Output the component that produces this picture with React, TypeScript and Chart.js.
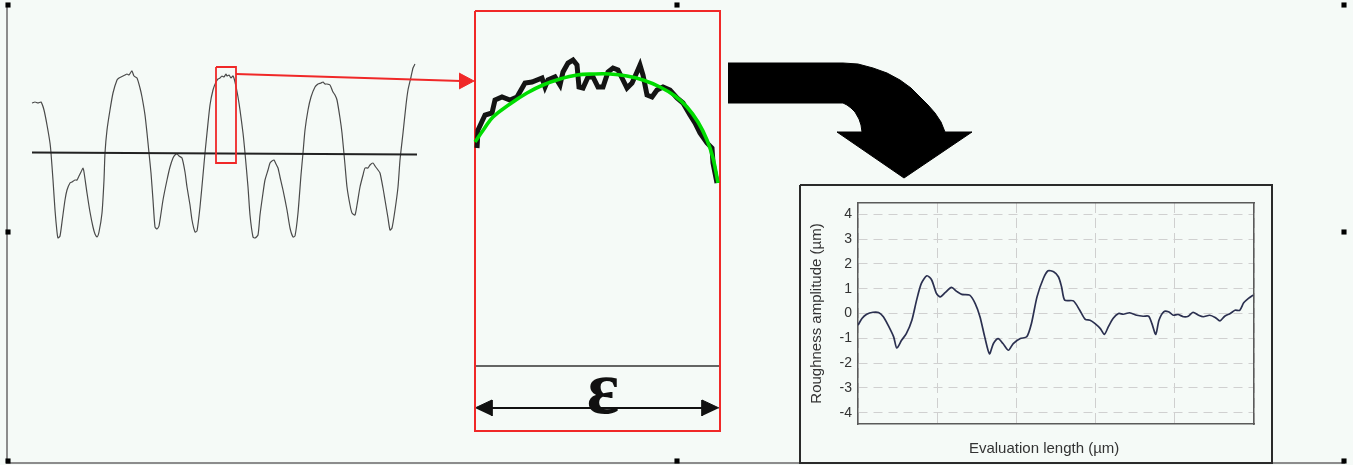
import React, { useEffect, useRef } from "react";
import { Chart, registerables } from "chart.js";

Chart.register(...registerables);

// ---------------- Left surface profile (x: position, y: height vs. mean line) ----------------
const profileX = [0,3,6,9,12,15,18,19,21,23,25,26,28,30,33,35,38,40,43,45,47,49,51,52,55,58,61,63,65,67,70,72,73,75,78,81,85,87,89,91,93,95,97,99,100,102,105,108,110,113,115,117,119,121,123,125,127,131,135,138,141,143,145,147,150,153,155,158,160,163,165,168,171,173,175,178,181,184,186,188,190,192,194,195,197,199,201,203,206,208,211,213,216,218,221,223,226,228,231,233,236,238,240,242,244,246,248,251,255,258,261,263,266,269,271,273,276,279,283,286,289,291,293,295,298,301,303,305,308,310,313,315,318,320,323,325,328,331,333,336,338,341,343,346,348,351,353,356,358,360,363,366,368,371,374,376,379,381,383];
const profileY = [50,51,50,51,43,28,10,0,-27,-57,-79,-85,-83,-69,-47,-37,-30,-29,-27,-27,-23,-19,-15,-19,-40,-59,-74,-81,-84,-79,-60,-27,0,23,43,60,73,75,76,77,78,79,78,81,82,77,75,65,56,38,20,0,-20,-47,-74,-76,-73,-47,-27,-14,-5,-2,-1,-3,-5,-19,-34,-52,-67,-79,-78,-54,-22,0,20,48,63,71,74,75,77,76,79,77,78,75,77,71,56,43,20,0,-34,-62,-84,-85,-82,-62,-40,-27,-17,-10,-8,-7,-11,-15,-24,-37,-57,-75,-84,-83,-60,-22,0,23,43,56,66,69,70,71,69,69,68,61,58,53,35,20,-12,-34,-52,-60,-62,-52,-34,-22,-15,-15,-12,-10,-13,-17,-20,-35,-47,-65,-77,-75,-57,-34,-7,20,48,63,76,85,89];
const meanLineX = [0, 385];
const meanLineY = [0.5, -1.5];

// ---------------- Magnified window (x: position in window, y: height) ----------------
const zoomTraceX = [2,3,10,17,20,27,35,42,50,57,67,70,73,80,85,88,93,98,102,104,108,113,118,123,128,133,138,143,148,152,157,162,165,168,172,177,182,188,195,202,208,215,220,225,232,237,238,241,242];
const zoomTraceY = [42,60,75,77,90,93,90,93,107,108,112,103,110,113,105,118,127,130,125,103,102,113,113,103,103,118,122,120,110,102,107,118,125,115,95,93,100,103,100,92,87,75,67,57,47,42,27,12,7];
const zoomFitX = [0,9,18,35,52,68,85,102,118,135,152,168,185,200,212,223,232,238,243];
const zoomFitY = [48,61,73,86,97,105,111,115,116,116,114,110,103,94,83,68,50,32,7];

// ---------------- Diagram decorations (page units) ----------------
const frameX = [7, 7, 1345];
const frameY = [5, 463, 463];
const handleX = [8, 677, 1344, 8, 1344, 8, 677, 1344];
const handleY = [5, 5, 5, 232, 232, 461, 461, 461];
const selBoxX = [216, 236, 236, 216, 216];
const selBoxY = [67, 67, 163, 163, 67];
const linkX = [236, 461];
const linkY = [74, 81];
const linkHeadX = [459, 474, 459];
const linkHeadY = [73, 81, 89];
const zoomBoxX = [475, 720, 720, 475, 475];
const zoomBoxY = [11, 11, 431, 431, 11];
const baseLineX = [475, 720];
const baseLineY = [366, 366];
const spanX = [480, 714];
const spanY = [408, 408];
const spanHeadLX = [475, 492, 492];
const spanHeadLY = [408, 400, 416];
const spanHeadRX = [719, 702, 702];
const spanHeadRY = [408, 400, 416];
const bigArrowX = [728,843,858,873,887,900,911,920,928,935,941,945,972,904,837,862,861,859,855,851,847,843,728];
const bigArrowY = [63,63,64,68,73,80,88,97,105,113,122,132,132,178,132,132,125,119,112,108,105,103,103];
const insetBoxX = [800, 1272, 1272, 800, 800];
const insetBoxY = [185, 185, 463, 463, 185];
const epsilonLabel = "ε";

// ---------------- Roughness inset chart ----------------
const evalX = [0,0.05,0.11,0.19,0.26,0.32,0.38,0.45,0.49,0.55,0.61,0.68,0.74,0.80,0.87,0.93,0.99,1.04,1.10,1.18,1.25,1.31,1.41,1.48,1.54,1.60,1.66,1.71,1.77,1.83,1.90,1.96,2.05,2.13,2.19,2.26,2.34,2.40,2.47,2.53,2.57,2.61,2.72,2.80,2.87,2.93,2.99,3.06,3.11,3.16,3.22,3.29,3.35,3.43,3.52,3.60,3.67,3.71,3.76,3.80,3.86,3.92,3.98,4.04,4.11,4.17,4.23,4.30,4.36,4.44,4.51,4.57,4.63,4.70,4.76,4.82,4.87,4.93,4.99];
const roughY = [-0.47,-0.2,-0.03,0.05,0.04,-0.13,-0.47,-0.94,-1.39,-1.08,-0.81,-0.27,0.54,1.21,1.52,1.35,0.81,0.67,0.84,1.05,0.88,0.77,0.74,0.40,-0.13,-0.94,-1.62,-1.21,-1.01,-1.21,-1.48,-1.21,-1.01,-0.94,-0.40,0.67,1.41,1.72,1.68,1.48,1.08,0.54,0.51,0.13,-0.24,-0.27,-0.40,-0.61,-0.84,-0.54,-0.20,0.0,-0.03,0.03,-0.07,-0.11,-0.11,-0.40,-0.84,-0.27,0.07,0.07,-0.07,-0.04,-0.13,-0.11,0.05,-0.07,-0.13,-0.07,-0.16,-0.30,-0.11,0.0,0.13,0.13,0.43,0.61,0.74];
const yTitle = "Roughness amplitude (µm)";
const xTitle = "Evaluation length (µm)";

const pts = (xs: number[], ys: number[]) => xs.map((x, i) => ({ x, y: ys[i] }));

const RED = "#f02828";
const BG = "#f5faf7";

function pageLine(xs: number[], ys: number[], color: string, width: number, order: number, extra: any = {}) {
  return {
    data: pts(xs, ys),
    xAxisID: "xPage",
    yAxisID: "yPage",
    borderColor: color,
    backgroundColor: color,
    borderWidth: width,
    pointRadius: 0,
    tension: 0,
    fill: false,
    order,
    ...extra,
  };
}

const diagramText = {
  id: "diagramText",
  afterDatasetsDraw(chart: any) {
    const { ctx } = chart;
    const xs = chart.scales.xPage;
    const ys = chart.scales.yPage;
    ctx.save();
    ctx.font = 'bold 76px "Liberation Serif", serif';
    ctx.fillStyle = "#111";
    ctx.textAlign = "center";
    ctx.textBaseline = "alphabetic";
    ctx.fillText(epsilonLabel, xs.getPixelForValue(603), ys.getPixelForValue(413));
    ctx.restore();
  },
};

const insetXTitle = {
  id: "insetXTitle",
  afterDraw(chart: any) {
    const { ctx } = chart;
    const xs = chart.scales.x;
    const ys = chart.scales.y;
    ctx.save();
    ctx.font = '15px "Liberation Sans", Arial, sans-serif';
    ctx.fillStyle = "#333";
    ctx.textAlign = "center";
    ctx.textBaseline = "middle";
    ctx.fillText(xTitle, xs.getPixelForValue(2.35), ys.getPixelForValue(-5.44));
    ctx.restore();
  },
};

export default function App() {
  const mainRef = useRef<HTMLCanvasElement>(null);
  const insetRef = useRef<HTMLCanvasElement>(null);

  useEffect(() => {
    const hidden = { display: false };
    const main = new Chart(mainRef.current as HTMLCanvasElement, {
      type: "line",
      data: {
        datasets: [
          pageLine(handleX, handleY, "#000", 0, 0, { showLine: false, pointRadius: 3.6, pointStyle: "rect", pointBackgroundColor: "#000", pointBorderWidth: 0 }),
          {
            data: pts(zoomFitX, zoomFitY),
            xAxisID: "xZoom",
            yAxisID: "yZoom",
            borderColor: "#00dc00",
            borderWidth: 3.6,
            pointRadius: 0,
            tension: 0.4,
            fill: false,
            order: 1,
          },
          {
            data: pts(zoomTraceX, zoomTraceY),
            xAxisID: "xZoom",
            yAxisID: "yZoom",
            borderColor: "#141414",
            borderWidth: 5,
            pointRadius: 0,
            tension: 0,
            fill: false,
            order: 2,
          },
          pageLine(zoomBoxX, zoomBoxY, RED, 2, 3),
          pageLine(baseLineX, baseLineY, "#333", 1.6, 4),
          pageLine(spanX, spanY, "#111", 2, 4),
          pageLine(spanHeadLX, spanHeadLY, "#111", 1, 4, { fill: "shape" }),
          pageLine(spanHeadRX, spanHeadRY, "#111", 1, 4, { fill: "shape" }),
          pageLine(selBoxX, selBoxY, RED, 1.8, 3),
          pageLine(linkX, linkY, RED, 2, 3),
          pageLine(linkHeadX, linkHeadY, RED, 1, 3, { fill: "shape" }),
          pageLine(bigArrowX, bigArrowY, "#000", 1, 5, { fill: "shape" }),
          {
            data: pts(meanLineX, meanLineY),
            xAxisID: "xProf",
            yAxisID: "yProf",
            borderColor: "#222",
            borderWidth: 1.8,
            pointRadius: 0,
            fill: false,
            order: 6,
          },
          {
            data: pts(profileX, profileY),
            xAxisID: "xProf",
            yAxisID: "yProf",
            borderColor: "#4a4a4a",
            borderWidth: 1.2,
            pointRadius: 0,
            tension: 0.2,
            fill: false,
            order: 7,
          },
          pageLine(insetBoxX, insetBoxY, "#2a2a2a", 2, 8),
          pageLine(frameX, frameY, "#8c8c8c", 2, 9),
        ] as any,
      },
      options: {
        animation: false,
        responsive: false,
        maintainAspectRatio: false,
        events: [],
        layout: { padding: 0, autoPadding: false },
        plugins: { legend: { display: false }, tooltip: { enabled: false }, title: { display: false } },
        scales: {
          xPage: { type: "linear", axis: "x", min: 0, max: 1353, ...hidden },
          yPage: { type: "linear", axis: "y", min: 0, max: 465, reverse: true, ...hidden },
          xProf: { type: "linear", axis: "x", min: -32, max: 1321, ...hidden },
          yProf: { type: "linear", axis: "y", min: -312, max: 153, ...hidden },
          xZoom: { type: "linear", axis: "x", min: -475, max: 878, ...hidden },
          yZoom: { type: "linear", axis: "y", min: -275, max: 190, ...hidden },
        } as any,
      },
      plugins: [diagramText],
    } as any);

    const tickFont = { family: '"Liberation Sans", Arial, sans-serif', size: 14 };
    const inset = new Chart(insetRef.current as HTMLCanvasElement, {
      type: "line",
      data: {
        datasets: [
          {
            data: pts(evalX, roughY),
            xAxisID: "x",
            yAxisID: "y",
            borderColor: "#2b3050",
            borderWidth: 1.7,
            pointRadius: 0,
            tension: 0.25,
            fill: false,
          },
        ],
      },
      options: {
        animation: false,
        responsive: false,
        maintainAspectRatio: false,
        events: [],
        layout: { padding: { top: 18, right: 18, left: 0, bottom: 0 }, autoPadding: false },
        plugins: { legend: { display: false }, tooltip: { enabled: false } },
        scales: {
          x: {
            type: "linear",
            min: 0,
            max: 5,
            ticks: { display: false, stepSize: 1 },
            grid: { display: true, color: "#cfcfcf", lineWidth: 1, drawTicks: false },
            border: { display: true, color: "#5a5a5a", width: 1.5, dash: [10, 5] },
            afterFit: (s: any) => { s.height = 39; },
          },
          y: {
            type: "linear",
            min: -4.45,
            max: 4.45,
            ticks: { stepSize: 1, includeBounds: false, color: "#333", font: tickFont, padding: 6 },
            grid: { display: true, color: "#d0d0d0", lineWidth: 1, drawTicks: false },
            border: { display: true, color: "#5a5a5a", width: 1.5, dash: [9, 6] },
            title: { display: true, text: yTitle, color: "#333", font: { family: tickFont.family, size: 15 }, padding: { top: 8, bottom: 0 } },
            afterFit: (s: any) => { s.width = 58; },
          },
          xTop: {
            type: "linear",
            position: "top",
            min: 0,
            max: 1,
            ticks: { display: false },
            grid: { display: false, drawTicks: false },
            border: { display: true, color: "#5a5a5a", width: 1.5 },
            afterFit: (s: any) => { s.height = 0; },
          },
          yRight: {
            type: "linear",
            position: "right",
            min: 0,
            max: 1,
            ticks: { display: false },
            grid: { display: false, drawTicks: false },
            border: { display: true, color: "#5a5a5a", width: 1.5 },
            afterFit: (s: any) => { s.width = 0; },
          },
        } as any,
      },
      plugins: [insetXTitle],
    } as any);

    return () => {
      main.destroy();
      inset.destroy();
    };
  }, []);

  return (
    <div style={{ position: "fixed", left: 0, top: 0, width: 1353, height: 465, background: BG, overflow: "hidden" }}>
      <canvas ref={mainRef} width={1353} height={465} style={{ position: "absolute", left: 0, top: 0, width: 1353, height: 465 }} />
      <canvas ref={insetRef} width={472} height={278} style={{ position: "absolute", left: 800, top: 185, width: 472, height: 278 }} />
    </div>
  );
}
